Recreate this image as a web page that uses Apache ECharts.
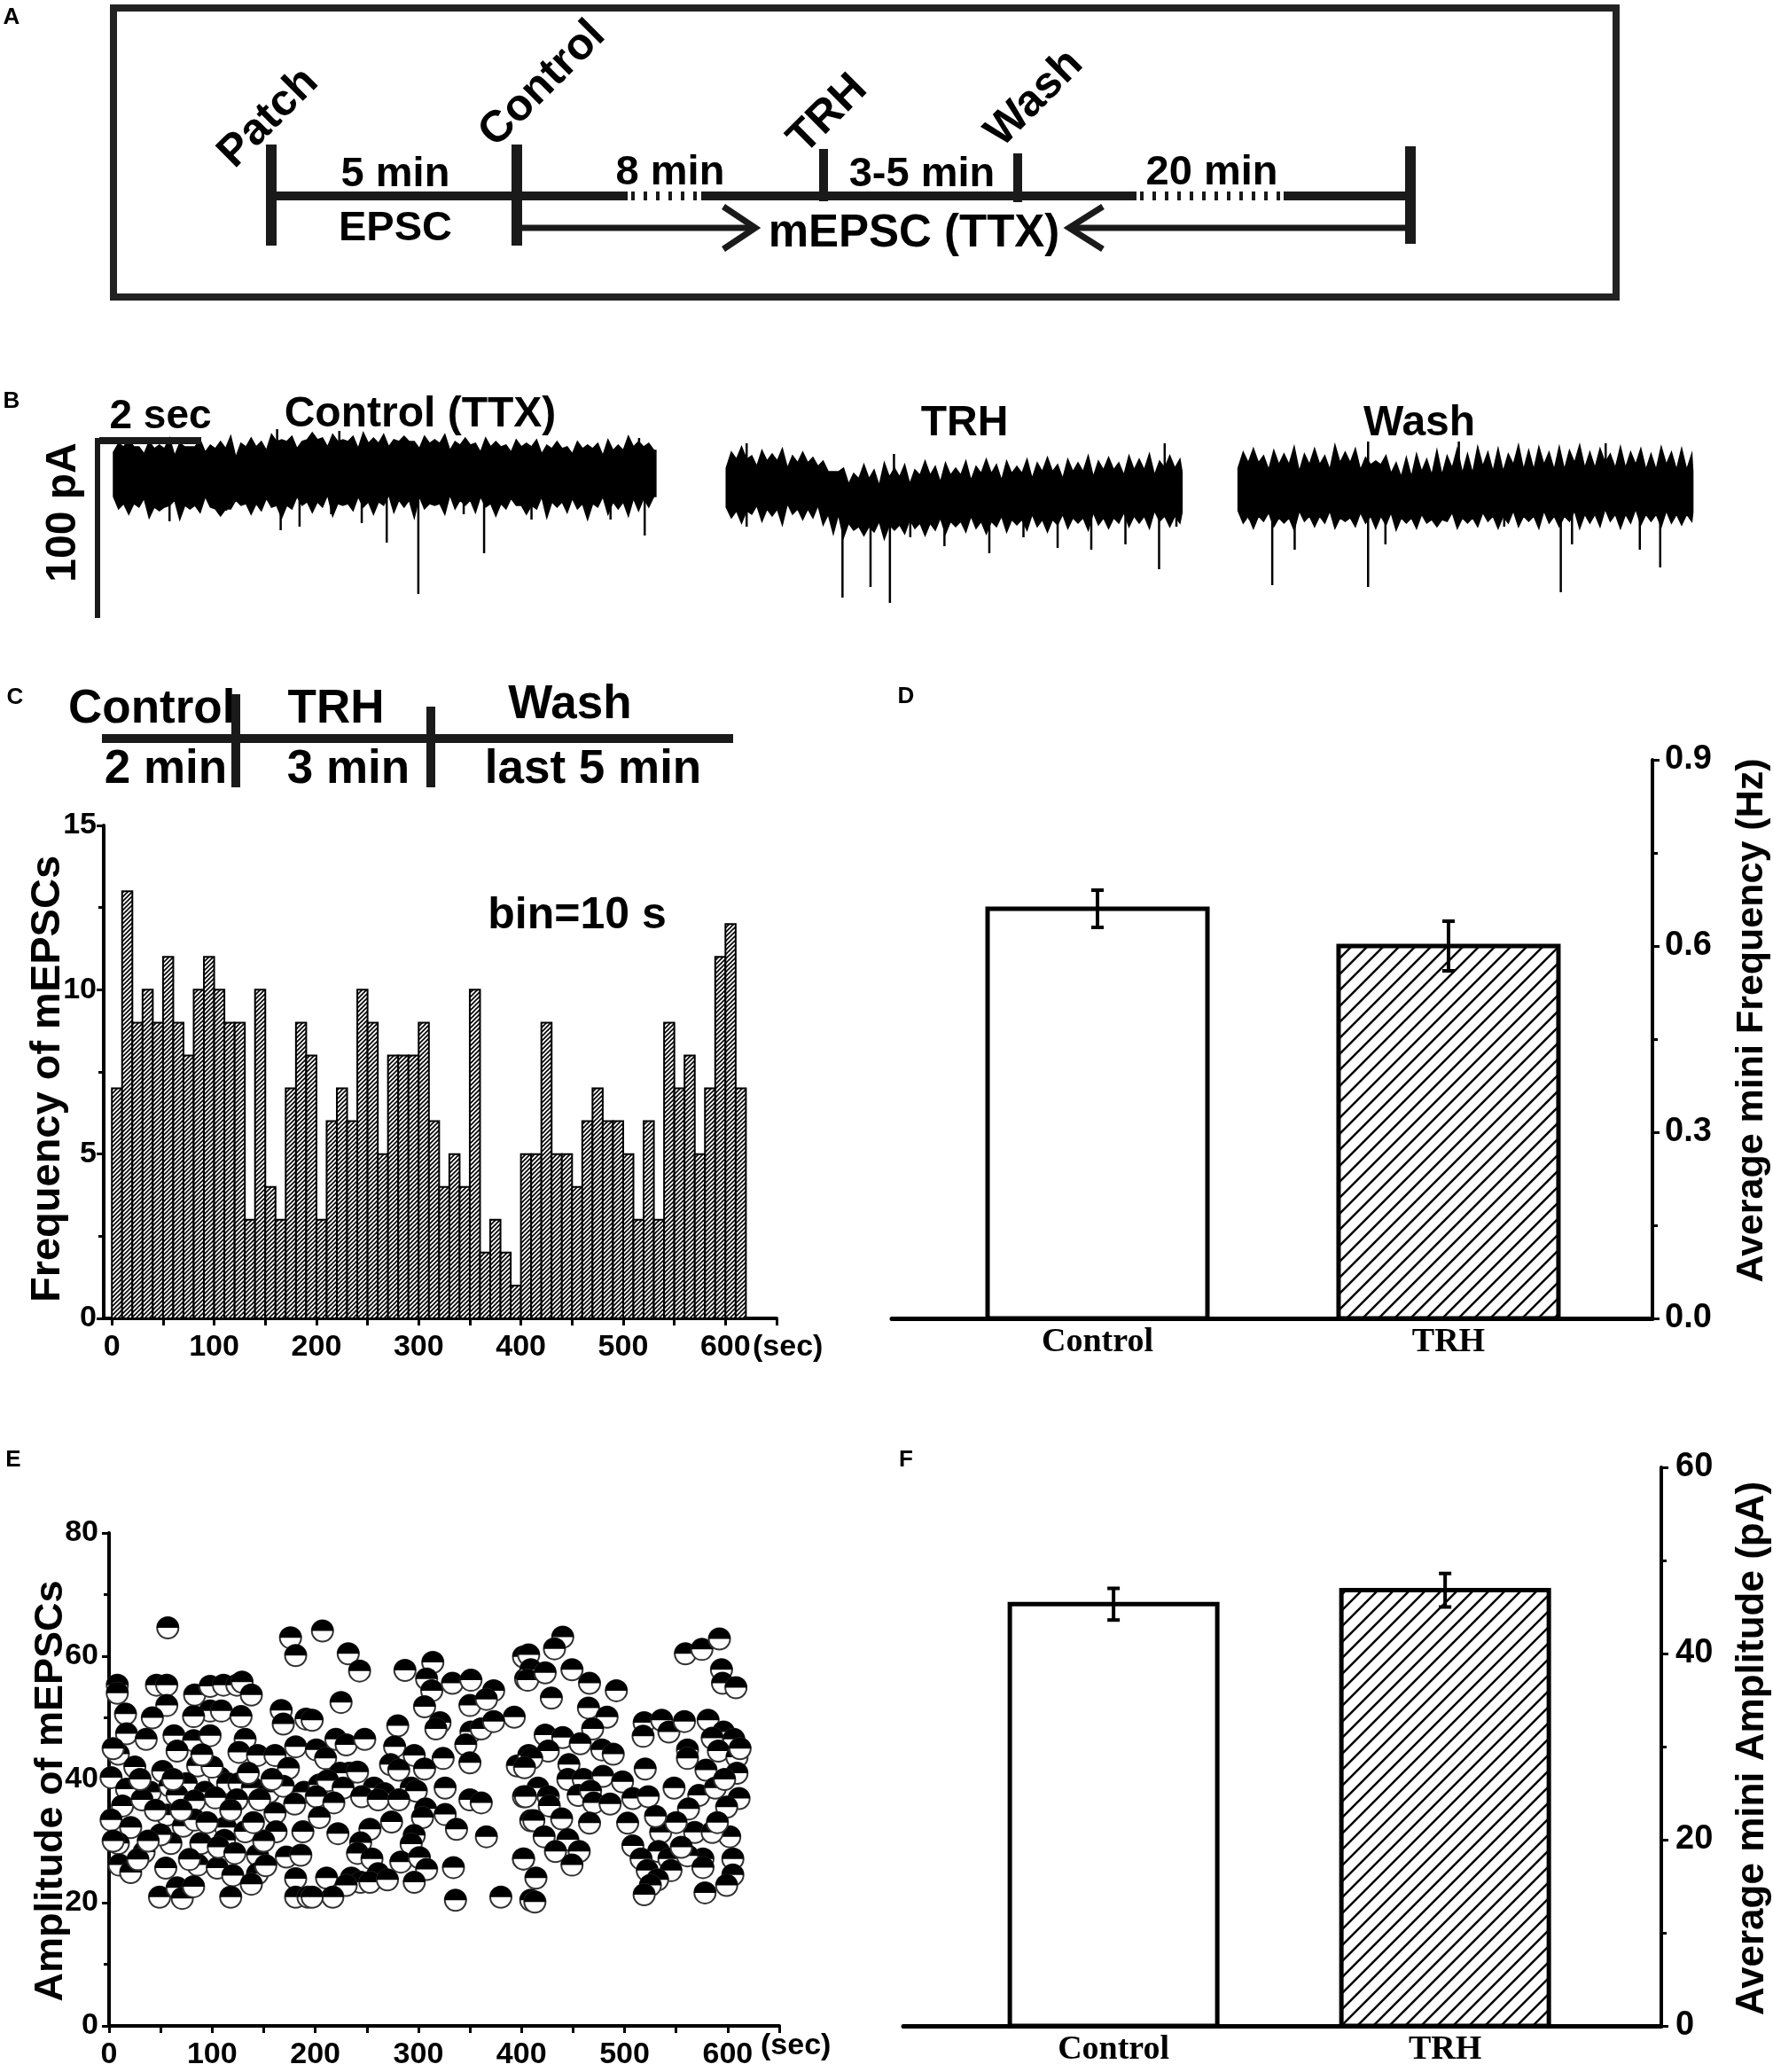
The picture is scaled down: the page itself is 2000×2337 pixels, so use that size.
<!DOCTYPE html>
<html lang="en">
<head>
<meta charset="UTF-8">
<title>TRH mEPSC figure</title>
<style>
  html, body { margin: 0; padding: 0; background: #fff; }
  #main { width: 2000px; height: 2337px; }
</style>
</head>
<body>
<div id="main"></div>
<script src="https://cdn.jsdelivr.net/npm/echarts@6/dist/echarts.min.js"></script>
<script type="text/javascript">
// ---- panel B : traces, [time s, upper edge pA, lower edge pA]
var ctrlTrace = [[0,-15,-40],[0.3,-12,-44],[0.6,-16,-41],[0.9,-13,-46],[1.2,-17,-42],[1.5,-12,-45],[1.8,-15,-40],[2.1,-13,-47],[2.4,-18,-42],[2.7,-12,-44],[3.0,-14,-41],[3.3,-9,-45],[3.6,-13,-40],[3.9,-8,-43],[4.2,-12,-39],[4.5,-9,-44],[4.8,-13,-40],[5.1,-10,-43],[5.4,-12,-39],[5.7,-9,-42],[6.0,-13,-40],[6.3,-10,-44],[6.6,-14,-39],[6.9,-11,-42],[7.2,-15,-40],[7.5,-12,-44],[7.8,-15,-41],[8.1,-12,-45],[8.4,-16,-40],[8.7,-13,-43],[9.0,-16,-41],[9.3,-13,-44],[9.6,-17,-40],[9.9,-14,-43],[10.2,-12,-41],[10.64,-14,-40]];
var trhTrace = [[12.02,-24,-46],[12.3,-19,-48],[12.6,-23,-45],[12.9,-20,-47],[13.2,-24,-44],[13.5,-21,-47],[13.8,-23,-45],[14.1,-26,-50],[14.4,-33,-55],[14.7,-30,-57],[15.0,-34,-54],[15.3,-29,-56],[15.6,-33,-53],[15.9,-28,-55],[16.2,-32,-52],[16.5,-28,-54],[16.8,-31,-51],[17.1,-27,-54],[17.4,-31,-51],[17.7,-27,-53],[18.0,-30,-50],[18.3,-26,-53],[18.6,-30,-50],[18.9,-26,-52],[19.2,-29,-49],[19.5,-25,-52],[19.8,-28,-49],[20.1,-25,-51],[20.4,-28,-48],[20.7,-24,-51],[20.96,-26,-49]];
var washTrace = [[22.06,-24,-48],[22.35,-21,-51],[22.65,-25,-49],[22.95,-22,-52],[23.25,-26,-48],[23.55,-22,-51],[23.85,-25,-48],[24.15,-21,-52],[24.45,-25,-49],[24.75,-22,-51],[25.05,-27,-49],[25.35,-29,-52],[25.65,-26,-50],[25.95,-28,-53],[26.25,-24,-49],[26.55,-27,-52],[26.85,-23,-49],[27.15,-26,-51],[27.45,-22,-48],[27.75,-25,-51],[28.05,-22,-48],[28.35,-25,-51],[28.65,-21,-48],[28.95,-24,-50],[29.25,-21,-47],[29.55,-24,-50],[29.85,-22,-47],[30.15,-25,-50],[30.45,-22,-48],[30.75,-25,-50],[30.98,-26,-49]];
// noise peaks on each edge of the band, one [up, down] pair every 0.2 s
var noiseStep = 0.2;
var ctrlNoise = [[-10,-47],[-8,-50],[-12,-46],[-9,-52],[-11,-48],[-7,-45],[-10,-53],[-12,-47],[-8,-49],[-11,-46],
[-9,-51],[-6,-47],[-10,-45],[-7,-50],[-9,-48],[-5,-46],[-8,-52],[-6,-47],[-9,-45],[-4,-49],
[-7,-46],[-5,-51],[-8,-45],[-6,-48],[-4,-46],[-7,-50],[-5,-45],[-8,-49],[-6,-46],[-9,-52],
[-6,-47],[-8,-45],[-5,-50],[-9,-47],[-7,-45],[-10,-49],[-7,-46],[-9,-51],[-11,-47],[-8,-45],
[-10,-50],[-8,-47],[-11,-52],[-9,-46],[-12,-49],[-9,-47],[-11,-53],[-10,-46],[-8,-50],[-11,-47],
[-6,-51],[-9,-48],[-10,-46]];
var trhNoise = [[-15,-52],[-12,-55],[-17,-50],[-14,-54],[-16,-51],[-13,-56],[-17,-50],[-15,-53],[-18,-52],[-20,-56],
[-26,-61],[-24,-63],[-27,-59],[-22,-62],[-25,-60],[-21,-64],[-24,-59],[-22,-61],[-25,-58],[-20,-62],
[-23,-59],[-21,-61],[-24,-57],[-20,-60],[-23,-58],[-19,-61],[-22,-57],[-20,-60],[-23,-56],[-19,-59],
[-21,-57],[-18,-60],[-22,-56],[-19,-58],[-21,-55],[-17,-59],[-20,-56],[-18,-58],[-21,-55],[-17,-57],
[-19,-55],[-16,-58],[-20,-54],[-17,-57],[-19,-55]];
var washNoise = [[-15,-55],[-13,-58],[-17,-54],[-14,-57],[-16,-55],[-12,-59],[-16,-54],[-13,-57],[-17,-55],[-11,-58],
[-15,-54],[-13,-57],[-18,-55],[-20,-58],[-17,-56],[-21,-59],[-18,-55],[-16,-58],[-19,-55],[-14,-57],
[-17,-54],[-13,-58],[-16,-55],[-12,-57],[-15,-54],[-13,-58],[-16,-55],[-11,-57],[-14,-54],[-12,-58],
[-15,-55],[-12,-57],[-14,-54],[-11,-58],[-15,-55],[-13,-57],[-16,-54],[-12,-58],[-15,-55],[-13,-56],
[-16,-54],[-12,-57],[-15,-55],[-13,-56],[-16,-54]];
// large events [time s, peak pA]
var ctrlSpikes = [[1.10,-54],[2.21,-48],[3.28,-59],[3.65,-57],[4.27,-50],[4.87,-55],[5.36,-66],[5.98,-95],[6.87,-50],[7.27,-72],[8.20,-53],[9.75,-53],[10.42,-62],[3.21,-2],[4.43,-3],[10.31,-7]];
var trhSpikes = [[12.42,-57],[14.30,-97],[14.85,-91],[15.23,-100],[15.63,-63],[16.30,-68],[17.18,-72],[17.85,-63],[18.52,-69],[19.18,-70],[19.85,-67],[20.51,-81],[20.85,-57],[12.42,-10],[15.31,-16],[20.62,-10]];
var washSpikes = [[22.28,-53],[22.73,-90],[23.17,-70],[24.61,-91],[24.95,-67],[27.28,-57],[28.39,-94],[28.61,-67],[29.94,-70],[30.34,-80],[24.61,-9],[26.39,-9],[29.27,-10]];

// ---- panel C : mEPSC counts per 10 s bin
var binWidth = 10;
var binCounts = [7,13,9,10,9,11,9,8,10,11,10,9,9,3,10,4,3,7,9,8,3,6,7,6,10,9,5,8,8,8,9,6,4,5,4,10,2,3,2,1,5,5,9,5,5,4,6,7,6,6,5,3,6,3,9,7,8,5,7,11,12,7];

// ---- panels D / F : means and SEM
var groups = ['Control', 'TRH'];
var freqMean = [0.66, 0.60];
var freqErr = [0.03, 0.04];
var ampMean = [45.3, 46.8];
var ampErr = [1.7, 1.8];

// ---- panel E : amplitude of each event [time s, pA]
var ampEarly = [[57,64.6],[176,63],[181,60.1],[8,55.3],[8,54],[46,55.3],[56,55.3],[56,52],[83,53.7],[98,55.1],[111,55.3],[124,55.3],[129,55.8],[138,53.7],
[98,51.1],[109,51.1],[128,50.2],[82,50.2],[16,50.6],[42,50],[167,51.2],[169,49],[191,49.8],
[17,47.4],[36,46.5],[63,47.1],[82,46.3],[98,47.1],[132,46.5],[126,44.4],[144,43.9],[161,43.9],[181,45.3],[174,41.8],[9,44.1],[66,44.6],[86,42.2],[52,41.3],[107,40.3],
[2,40.3],[17,38.4],[40,37.9],[59,38.9],[75,39.3],[93,37.9],[115,39.3],[126,39.3],[139,38.6],[155,37.9],[169,38.9],[189,37.9],
[13,35.7],[32,36.7],[66,37.4],[83,36.5],[103,37],[124,36.7],[146,36.7],[180,36],[161,34.5],
[2,33.4],[21,32.2],[56,34.2],[72,32.4],[83,33.4],[113,32.2],[132,31.5],[162,31.5],[188,31.5],
[9,29.6],[34,28.2],[60,29.6],[89,29.6],[112,30.1],[144,27.7],[172,27.4],[186,27.7],
[10,26.1],[21,24.9],[55,25.6],[86,26.1],[105,25.6],[120,24.4],[144,24.7],[138,23],[181,23.9],
[49,20.9],[66,22.4],[71,20.7],[82,22.6],[118,20.9],[181,20.9],[193,20.9],
[4,45],[25,42],[30,40],[45,35],[50,31],[70,35],[78,27],[95,33],[100,42],[118,35],[135,41],[150,30],[152,26],[158,40],[4,30],[28,27],[38,30],[62,40],[90,44],[106,29],[122,28],[140,33]];
var ampMid = [[207,64.1],[232,60.4],[243,57.6],[225,52.5],[287,57.7],[314,59],[308,56.3],[313,54.4],[306,51.8],[333,55.6],[351,56.1],[350,52],[373,54.4],[366,53],[393,50.1],[402,59.9],[404,56.3],
[197,49.6],[280,48.7],[321,49.2],[317,48.2],[351,47.7],[361,48.2],[373,49.4],[346,45.6],[350,42.7],[324,43.4],
[220,46.5],[230,45.6],[248,46.5],[201,44.8],[210,43.4],[277,45.3],[273,42.4],[296,43.9],[306,41.7],[281,41.5],[233,41],[224,41],[241,41.2],[396,42.2],[407,43.9],
[204,39.1],[212,39.8],[227,38.6],[257,38.6],[267,37.7],[293,38.6],[298,38.1],[326,38.6],[402,37.2],[201,37.2],[218,36.2],[245,37.2],[261,36.7],[281,36.7],[307,35.2],[326,34.3],[350,36.7],[361,36.2],
[204,33.8],[274,33.1],[304,33.8],[253,31.9],[222,31.2],[337,31.9],[366,30.7],[296,30.9],[409,33.3],[244,29.7],[293,29.5],
[241,28],[255,27.1],[283,26.6],[301,27.3],[334,25.7],[402,27.1],[308,25.4],[261,24.7],[235,24],[244,23.3],[253,23.3],[270,23.7],[211,24],[230,22.8],[296,23.3],
[217,20.9],[197,20.9],[336,20.4],[380,20.9],[409,20.4]];
var ampLate = [[440,63.1],[432,61.2],[407,60.2],[409,57.8],[406,56.1],[423,57.3],[449,57.8],[466,55.6],[492,54.4],[429,53.2],[465,51.6],[483,50.1],[469,48.2],
[559,60.4],[575,61.1],[592,62.8],[594,57.8],[595,55.6],[608,54.9],
[519,49.2],[518,47],[536,49.6],[543,47.7],[558,49.4],[581,49.6],[596,47.7],[606,46.5],[585,46.7],[561,44.8],[561,43.4],[579,41.5],[591,44.6],[609,43.6],[609,41],[520,41.7],
[423,47.2],[440,46.8],[457,45.8],[426,44.6],[410,43.4],[403,41.9],[446,42.4],[478,44.8],[489,44.1],[445,40],[460,40],[479,40.5],[498,39.6],
[416,38.6],[404,37.2],[426,37.2],[455,37.4],[467,38.1],[508,36.9],[523,37.2],[548,38.6],[572,37.4],[588,38.6],[611,36.9],
[427,35.7],[470,36.2],[486,36],[562,35.2],[599,35.5],[439,33.6],[412,33.3],[466,32.9],[503,32.9],[535,31.4],[568,31.4],[602,30.7],[585,31.4],
[422,30.7],[445,30.2],[456,28.3],[433,28.3],[508,29.2],[533,28.3],[543,27.1],[576,27.1],[605,27.1],[561,27.6],[402,27.1],[449,26.1],[516,27.1],
[522,25.2],[545,25.2],[576,25.7],[605,24.5],[532,23.7],[525,22.8],[599,22.8],[414,24],[519,21.3],[578,21.6],[413,20.1],
[550,33],[590,33],[597,40],[555,29],[530,34],[612,45]];

// tick lists for the time axes
var secTicks = [0,50,100,150,200,250,300,350,400,450,500,550,600,650];
var secLabels = [0,100,200,300,400,500,600];

var SANS = '"Liberation Sans", Arial, sans-serif';
var NARROW = '"Liberation Sans Narrow", "Arial Narrow", "Liberation Sans", sans-serif';
var SERIF = '"Liberation Serif", "Times New Roman", serif';

// diagonal hatch used for the TRH bars and the histogram
function hatch(size, lw) {
  var c = document.createElement('canvas');
  c.width = size; c.height = size;
  var g = c.getContext('2d');
  g.fillStyle = '#fff';
  g.fillRect(0, 0, size, size);
  g.strokeStyle = '#000';
  g.lineWidth = lw;
  g.beginPath();
  g.moveTo(0, size); g.lineTo(size, 0);
  g.moveTo(-size / 2, size / 2); g.lineTo(size / 2, -size / 2);
  g.moveTo(size / 2, size * 1.5); g.lineTo(size * 1.5, size / 2);
  g.stroke();
  return c;
}
var barHatch = { image: hatch(18, 2.5), repeat: 'repeat' };
var binHatch = { image: hatch(5, 1.6), repeat: 'repeat' };

var myChart = echarts.init(document.getElementById('main'), null, { renderer: 'canvas' });

var axisLine = { onZero: false, lineStyle: { color: '#000', width: 4 } };
var axisTick = { length: 8, lineStyle: { color: '#000', width: 3 } };
var minorTick = { show: true, splitNumber: 2, length: 6, lineStyle: { color: '#000', width: 3 } };
function tickLabel(size, margin) {
  return { color: '#000', fontFamily: NARROW, fontWeight: 'bold', fontSize: size, margin: margin };
}

function txt(s, x, y, size, opt) {
  opt = opt || {};
  return {
    type: 'text', x: x, y: y, rotation: opt.rot || 0, z: 20,
    style: {
      text: s, fill: '#000',
      font: 'bold ' + size + 'px ' + (opt.font || SANS),
      align: opt.align || 'center', verticalAlign: 'middle',
      textAlign: opt.align || 'center', textVerticalAlign: 'middle'
    }
  };
}
function seg(x1, y1, x2, y2, w, dash) {
  return { type: 'line', z: 21, shape: { x1: x1, y1: y1, x2: x2, y2: y2 },
    style: { stroke: '#1a1a1a', lineWidth: w, lineDash: dash || null } };
}
function poly(pts, w) {
  return { type: 'polyline', z: 21, shape: { points: pts }, style: { stroke: '#1a1a1a', lineWidth: w, fill: null } };
}

var Q = Math.PI / 4, R = Math.PI / 2;
var graphics = [
  // panel letters
  txt('A', 13, 20, 26), txt('B', 13, 453, 26), txt('C', 17, 787, 26),
  txt('D', 1022, 786, 26), txt('E', 15, 1647, 26), txt('F', 1022, 1647, 26),
  // panel A schematic
  { type: 'rect', z: 20, shape: { x: 128, y: 9, width: 1695, height: 326 }, style: { fill: null, stroke: '#222', lineWidth: 8 } },
  txt('Patch', 303, 133, 50, { rot: Q }), txt('Control', 612, 95, 50, { rot: Q }),
  txt('TRH', 934, 129, 50, { rot: Q }), txt('Wash', 1167, 111, 50, { rot: Q }),
  txt('5 min', 446, 197, 47), txt('EPSC', 446, 258, 47), txt('8 min', 756, 195, 47),
  txt('3-5 min', 1040, 197, 47), txt('20 min', 1367, 195, 47), txt('mEPSC (TTX)', 1031, 264, 51),
  seg(306, 221, 708, 221, 10), seg(712, 221, 790, 221, 10, [4, 10]), seg(791, 221, 1282, 221, 10),
  seg(1286, 221, 1446, 221, 10, [4, 10]), seg(1448, 221, 1591, 221, 10),
  seg(306, 163, 306, 277, 12), seg(583, 163, 583, 277, 12), seg(929, 168, 929, 227, 10),
  seg(1148, 173, 1148, 228, 10), seg(1591, 165, 1591, 275, 12),
  seg(583, 257, 848, 257, 7), poly([[816, 233], [852, 257], [816, 281]], 7),
  seg(1591, 257, 1210, 257, 7), poly([[1244, 233], [1206, 257], [1244, 281]], 7),
  // panel B labels and scale bars
  txt('2 sec', 181, 470, 46), txt('Control (TTX)', 474, 468, 48),
  txt('TRH', 1088, 478, 48), txt('Wash', 1601, 478, 48),
  txt('100 pA', 72, 578, 48, { rot: R }),
  seg(112, 497, 227, 497, 8), seg(110, 494, 110, 697, 6),
  // panel C header
  txt('Control', 77, 800, 53, { align: 'left' }), txt('TRH', 379, 800, 53), txt('Wash', 643, 795, 53),
  txt('2 min', 187, 868, 53), txt('3 min', 393, 868, 53), txt('last 5 min', 669, 868, 53),
  seg(115, 833, 827, 833, 10), seg(266, 783, 266, 888, 10), seg(486, 797, 486, 888, 10),
  txt('bin=10 s', 651, 1033, 50),
  txt('(sec)', 849, 1520, 34, { align: 'left', font: NARROW }),
  txt('(sec)', 858, 2308, 34, { align: 'left', font: NARROW }),
  // axis titles
  txt('Frequency of mEPSCs', 54, 1217, 47, { rot: R }),
  txt('Amplitude of mEPSCs', 58, 2020, 45, { rot: R }),
  txt('Average mini Frequency (Hz)', 1976, 1151, 43, { rot: R }),
  txt('Average mini Amplitude (pA)', 1977, 1972, 44, { rot: R })
];

function meanBars(params, api) {
  var i = api.value(0), v = api.value(1), e = api.value(2);
  var base = api.coord([i, 0]), top = api.coord([i, v]);
  var hi = api.coord([i, v + e]), lo = api.coord([i, v - e]);
  var w = params.seriesIndex === 3 ? 248 : 234;
  return {
    type: 'group', children: [
      { type: 'rect', shape: { x: base[0] - w / 2, y: top[1], width: w, height: base[1] - top[1] },
        style: { fill: i === 1 ? barHatch : '#fff', stroke: '#000', lineWidth: 5 } },
      { type: 'line', shape: { x1: hi[0], y1: hi[1], x2: lo[0], y2: lo[1] }, style: { stroke: '#000', lineWidth: 4 } },
      { type: 'line', shape: { x1: hi[0] - 7, y1: hi[1], x2: hi[0] + 7, y2: hi[1] }, style: { stroke: '#000', lineWidth: 4 } },
      { type: 'line', shape: { x1: lo[0] - 7, y1: lo[1], x2: lo[0] + 7, y2: lo[1] }, style: { stroke: '#000', lineWidth: 4 } }
    ]
  };
}

var traces = [[ctrlTrace, ctrlNoise], [trhTrace, trhNoise], [washTrace, washNoise]];
// edge value of the nearest envelope sample (col 1 = upper, col 2 = lower)
function nearestEdge(tr, t, col) {
  var best = tr[0];
  tr.forEach(function (d) { if (Math.abs(d[0] - t) < Math.abs(best[0] - t)) best = d; });
  return best[col];
}
function bandEdge(tr, noise, col) {
  var tEnd = tr[tr.length - 1][0], pts = [[tr[0][0], tr[0][col]]];
  noise.forEach(function (n, k) {
    var t = tr[0][0] + noiseStep / 2 + k * noiseStep;
    if (t < tEnd) pts.push([t, n[col - 1]]);
    if (t + noiseStep / 2 < tEnd) pts.push([t + noiseStep / 2, nearestEdge(tr, t + noiseStep / 2, col)]);
  });
  pts.push([tEnd, tr[tr.length - 1][col]]);
  return pts;
}

var option = {
  animation: false,
  backgroundColor: '#fff',
  grid: [
    { left: 128, top: 480, width: 1781, height: 220 },
    { left: 117, top: 931, width: 759, height: 556 },
    { left: 1006, top: 857, width: 858, height: 630 },
    { left: 123, top: 1729, width: 756, height: 556 },
    { left: 1019, top: 1655, width: 855, height: 630 }
  ],
  xAxis: [
    { gridIndex: 0, type: 'value', min: 0, max: 30.97, show: false },
    { gridIndex: 1, type: 'value', min: -8, max: 650, axisLine: axisLine,
      axisTick: Object.assign({ customValues: secTicks }, axisTick), splitLine: { show: false },
      axisLabel: Object.assign({ customValues: secLabels }, tickLabel(34, 16)) },
    { gridIndex: 2, type: 'value', min: -0.586, max: 1.581, axisLine: { onZero: false, lineStyle: { color: '#000', width: 5 } },
      axisTick: { show: false }, splitLine: { show: false },
      axisLabel: { customValues: [0, 1], formatter: function (v) { return groups[v]; },
        color: '#000', fontFamily: SERIF, fontWeight: 'bold', fontSize: 38, margin: 8 } },
    { gridIndex: 3, type: 'value', min: 0, max: 650, axisLine: axisLine,
      axisTick: Object.assign({ customValues: secTicks }, axisTick), splitLine: { show: false },
      axisLabel: Object.assign({ customValues: secLabels }, tickLabel(34, 16)) },
    { gridIndex: 4, type: 'value', min: -0.634, max: 1.652, axisLine: { onZero: false, lineStyle: { color: '#000', width: 5 } },
      axisTick: { show: false }, splitLine: { show: false },
      axisLabel: { customValues: [0, 1], formatter: function (v) { return groups[v]; },
        color: '#000', fontFamily: SERIF, fontWeight: 'bold', fontSize: 38, margin: 8 } }
  ],
  yAxis: [
    { gridIndex: 0, type: 'value', min: -110, max: 0, show: false },
    { gridIndex: 1, type: 'value', min: 0, max: 15, interval: 5, axisLine: axisLine, axisTick: axisTick,
      minorTick: minorTick, splitLine: { show: false }, axisLabel: tickLabel(34, 8) },
    { gridIndex: 2, type: 'value', position: 'right', min: 0, max: 0.9, interval: 0.3,
      axisLine: axisLine, axisTick: axisTick, minorTick: minorTick, splitLine: { show: false },
      axisLabel: Object.assign({ formatter: function (v) { return v.toFixed(1); } }, tickLabel(38, 14)) },
    { gridIndex: 3, type: 'value', min: 0, max: 80, interval: 20, axisLine: axisLine, axisTick: axisTick,
      minorTick: minorTick, splitLine: { show: false }, axisLabel: tickLabel(34, 12) },
    { gridIndex: 4, type: 'value', position: 'right', min: 0, max: 60, interval: 20,
      axisLine: axisLine, axisTick: axisTick, minorTick: minorTick, splitLine: { show: false },
      axisLabel: tickLabel(38, 16) }
  ],
  series: [
    { // current traces: filled band with jagged noise edges
      type: 'custom', xAxisIndex: 0, yAxisIndex: 0,
      data: [[0, 0], [1, 0], [2, 0]],
      renderItem: function (params, api) {
        var tr = traces[params.dataIndex][0], noise = traces[params.dataIndex][1];
        var top = bandEdge(tr, noise, 1), bot = bandEdge(tr, noise, 2).reverse();
        var pts = top.concat(bot).map(function (d) { return api.coord(d); });
        return { type: 'polygon', shape: { points: pts }, style: { fill: '#000', stroke: '#000', lineWidth: 1.5, lineJoin: 'miter' } };
      }
    },
    { // spontaneous events
      type: 'custom', xAxisIndex: 0, yAxisIndex: 0,
      data: ctrlSpikes.concat(trhSpikes, washSpikes),
      renderItem: function (params, api) {
        var a = api.coord([api.value(0), -32]), b = api.coord([api.value(0), api.value(1)]);
        return { type: 'line', shape: { x1: a[0], y1: a[1], x2: b[0], y2: b[1] }, style: { stroke: '#000', lineWidth: 2.5 } };
      }
    },
    { // panel C histogram
      type: 'custom', xAxisIndex: 1, yAxisIndex: 1,
      data: binCounts.map(function (c, i) { return [i * binWidth, c]; }),
      renderItem: function (params, api) {
        var x0 = api.value(0), v = api.value(1);
        var p0 = api.coord([x0, 0]), p1 = api.coord([x0 + binWidth, v]);
        return { type: 'rect', shape: { x: p0[0], y: p1[1], width: p1[0] - p0[0], height: p0[1] - p1[1] },
          style: { fill: binHatch, stroke: '#000', lineWidth: 2 } };
      }
    },
    { // panel D
      type: 'custom', xAxisIndex: 2, yAxisIndex: 2,
      data: groups.map(function (g, i) { return [i, freqMean[i], freqErr[i]]; }),
      renderItem: meanBars
    },
    { // panel E amplitudes, half-filled circles
      type: 'custom', xAxisIndex: 3, yAxisIndex: 3,
      data: ampEarly.concat(ampMid, ampLate),
      renderItem: function (params, api) {
        var p = api.coord([api.value(0), api.value(1)]);
        return {
          type: 'group', children: [
            { type: 'circle', shape: { cx: p[0], cy: p[1], r: 12 }, style: { fill: '#fff', stroke: '#333', lineWidth: 2 } },
            { type: 'sector', shape: { cx: p[0], cy: p[1], r0: 0, r: 12.5, startAngle: Math.PI, endAngle: Math.PI * 2 },
              style: { fill: '#000' } }
          ]
        };
      }
    },
    { // panel F
      type: 'custom', xAxisIndex: 4, yAxisIndex: 4,
      data: groups.map(function (g, i) { return [i, ampMean[i], ampErr[i]]; }),
      renderItem: meanBars
    }
  ],
  graphic: { elements: graphics }
};

myChart.setOption(option);
</script>
</body>
</html>
